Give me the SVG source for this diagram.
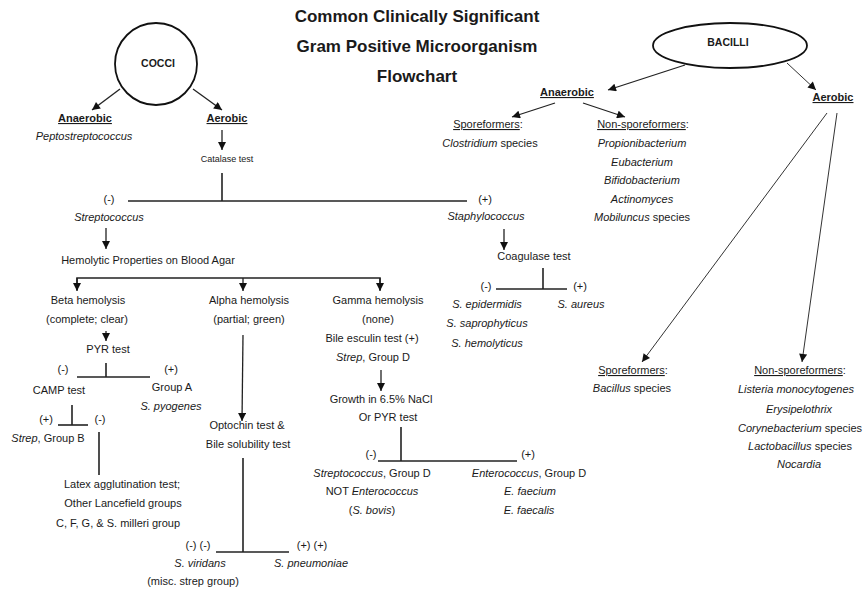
<svg xmlns="http://www.w3.org/2000/svg" width="866" height="590" viewBox="0 0 866 590">
<defs>
<marker id="ah" viewBox="0 0 10 10" refX="10" refY="5" markerWidth="9" markerHeight="8" markerUnits="userSpaceOnUse" orient="auto"><path d="M0,0 L10,5 L0,10 Z" fill="#111"/></marker>
</defs>
<style>
text{font-family:"Liberation Sans",Arial,sans-serif;font-size:11px;fill:#1a1a1a;text-anchor:middle}
.t{font-size:17px;font-weight:bold}
.h{font-weight:bold;text-decoration:underline}
.n{font-size:10.5px;font-weight:bold}
.s{font-size:9px}
.i{font-style:italic}
.u{text-decoration:underline}
.ln{stroke:#222;stroke-width:1.6;fill:none}
.ar{stroke:#222;stroke-width:1.3;fill:none;marker-end:url(#ah)}
.th{stroke:#333;stroke-width:1;fill:none;marker-end:url(#ah)}
.shape{fill:#fff;stroke:#111;stroke-width:1.8}
</style>
<rect width="866" height="590" fill="#fff"/>
<g id="title">
<text class="t" x="417" y="22">Common Clinically Significant</text>
<text class="t" x="417" y="52">Gram Positive Microorganism</text>
<text class="t" x="417" y="82">Flowchart</text>
</g>
<g id="connectors">
<line class="ar" x1="120" y1="89" x2="92" y2="110"/>
<line class="ar" x1="193" y1="89" x2="222" y2="110"/>
<line class="ar" x1="222" y1="130" x2="222" y2="150"/>
<line class="ln" x1="222" y1="173" x2="222" y2="201"/>
<line class="ln" x1="128" y1="201" x2="467" y2="201"/>
<line class="ar" x1="106" y1="228" x2="106" y2="249"/>
<polyline class="ln" points="77,290 77,278 380,278 380,290"/>
<line class="ar" x1="77" y1="278" x2="77" y2="291"/>
<line class="ar" x1="243" y1="278" x2="243" y2="291"/>
<line class="ar" x1="380" y1="278" x2="380" y2="291"/>
<line class="ar" x1="106" y1="331" x2="106" y2="341"/>
<line class="ln" x1="106" y1="363" x2="106" y2="377"/>
<line class="ln" x1="77" y1="377" x2="150" y2="377"/>
<line class="ln" x1="72" y1="405" x2="72" y2="425"/>
<line class="ln" x1="58" y1="425" x2="88" y2="425"/>
<line class="ln" x1="99" y1="432" x2="99" y2="475"/>
<line class="ar" x1="243" y1="335" x2="242" y2="421"/>
<line class="ln" x1="243" y1="458" x2="243" y2="552"/>
<line class="ln" x1="216" y1="552" x2="289" y2="552"/>
<line class="ar" x1="381" y1="370" x2="381" y2="391"/>
<line class="ln" x1="401" y1="427" x2="401" y2="461"/>
<line class="ln" x1="378" y1="461" x2="517" y2="461"/>
<line class="ar" x1="504" y1="229" x2="504" y2="250"/>
<line class="ln" x1="543" y1="268" x2="543" y2="289"/>
<line class="ln" x1="496" y1="289" x2="567" y2="289"/>
<line class="ar" x1="685" y1="65" x2="608" y2="90"/>
<line class="th" x1="787" y1="63" x2="816" y2="90"/>
<line class="ar" x1="555" y1="103" x2="512" y2="117"/>
<line class="ar" x1="583" y1="103" x2="625" y2="117"/>
<line class="th" x1="827" y1="113" x2="642" y2="362"/>
<line class="th" x1="837" y1="113" x2="802" y2="362"/>
</g>
<g id="cocci">
<circle class="shape" cx="156" cy="64" r="41"/>
<text class="n" x="158" y="67">COCCI</text>
</g>
<g id="cocci-anaerobic">
<text class="h" x="85" y="122">Anaerobic</text>
<text class="i" x="84" y="140">Peptostreptococcus</text>
</g>
<g id="cocci-aerobic">
<text class="h" x="227" y="122">Aerobic</text>
</g>
<g id="catalase">
<text class="s" x="227" y="162">Catalase test</text>
<text x="109" y="203">(-)</text>
<text x="485" y="203">(+)</text>
</g>
<g id="streptococcus">
<text class="i" x="109" y="221">Streptococcus</text>
</g>
<g id="hemolytic">
<text x="148" y="264">Hemolytic Properties on Blood Agar</text>
</g>
<g id="beta">
<text x="88" y="304">Beta hemolysis</text>
<text x="87" y="323">(complete; clear)</text>
</g>
<g id="pyr">
<text x="108" y="353">PYR test</text>
<text x="63" y="373">(-)</text>
<text x="171" y="373">(+)</text>
</g>
<g id="camp">
<text x="59" y="394">CAMP test</text>
<text x="46" y="423">(+)</text>
<text x="100" y="423">(-)</text>
</g>
<g id="groupA">
<text x="172" y="391">Group A</text>
<text class="i" x="171" y="410">S. pyogenes</text>
</g>
<g id="groupB">
<text x="48" y="442"><tspan class="i">Strep</tspan>, Group B</text>
</g>
<g id="latex">
<text x="122" y="488">Latex agglutination test;</text>
<text x="123" y="507">Other Lancefield groups</text>
<text x="118" y="527">C, F, G, &amp; S. milleri group</text>
</g>
<g id="alpha">
<text x="249" y="304">Alpha hemolysis</text>
<text x="249" y="323">(partial; green)</text>
</g>
<g id="optochin">
<text x="247" y="429">Optochin test &amp;</text>
<text x="248" y="448">Bile solubility test</text>
<text x="198" y="549">(-) (-)</text>
<text x="312" y="549">(+) (+)</text>
</g>
<g id="viridans">
<text class="i" x="200" y="567">S. viridans</text>
<text x="193" y="585">(misc. strep group)</text>
</g>
<g id="pneumoniae">
<text class="i" x="311" y="567">S. pneumoniae</text>
</g>
<g id="gamma">
<text x="378" y="304">Gamma hemolysis</text>
<text x="378" y="323">(none)</text>
<text x="372" y="342">Bile esculin test (+)</text>
<text x="373" y="361"><tspan class="i">Strep</tspan>, Group D</text>
</g>
<g id="growth">
<text x="381" y="403">Growth in 6.5% NaCl</text>
<text x="388" y="421">Or PYR test</text>
<text x="371" y="458">(-)</text>
<text x="528" y="458">(+)</text>
</g>
<g id="strepD">
<text x="372" y="477"><tspan class="i">Streptococcus</tspan>, Group D</text>
<text x="372" y="495">NOT <tspan class="i">Enterococcus</tspan></text>
<text x="372" y="514">(<tspan class="i">S. bovis</tspan>)</text>
</g>
<g id="enterococcus">
<text x="529" y="477"><tspan class="i">Enterococcus</tspan>, Group D</text>
<text class="i" x="530" y="495">E. faecium</text>
<text class="i" x="529" y="514">E. faecalis</text>
</g>
<g id="staphylococcus">
<text class="i" x="486" y="220">Staphylococcus</text>
</g>
<g id="coagulase">
<text x="534" y="260">Coagulase test</text>
<text x="486" y="290">(-)</text>
<text x="580" y="290">(+)</text>
</g>
<g id="coag-neg">
<text class="i" x="487" y="308">S. epidermidis</text>
<text class="i" x="487" y="327">S. saprophyticus</text>
<text class="i" x="487" y="347">S. hemolyticus</text>
</g>
<g id="aureus">
<text class="i" x="581" y="308">S. aureus</text>
</g>
<g id="bacilli">
<ellipse class="shape" cx="730" cy="45.5" rx="77" ry="22.5"/>
<text class="n" x="728" y="46">BACILLI</text>
</g>
<g id="bacilli-anaerobic">
<text class="h" x="567" y="96">Anaerobic</text>
</g>
<g id="anaerobic-spore">
<text x="488" y="128"><tspan class="u">Sporeformers</tspan>:</text>
<text x="490" y="147"><tspan class="i">Clostridium</tspan> species</text>
</g>
<g id="anaerobic-nonspore">
<text x="643" y="128"><tspan class="u">Non-sporeformers</tspan>:</text>
<text class="i" x="642" y="147">Propionibacterium</text>
<text class="i" x="642" y="166">Eubacterium</text>
<text class="i" x="642" y="184">Bifidobacterium</text>
<text class="i" x="642" y="203">Actinomyces</text>
<text x="642" y="221"><tspan class="i">Mobiluncus</tspan> species</text>
</g>
<g id="bacilli-aerobic">
<text class="h" x="833" y="101">Aerobic</text>
</g>
<g id="aerobic-spore">
<text x="633" y="374"><tspan class="u">Sporeformers</tspan>:</text>
<text x="632" y="392"><tspan class="i">Bacillus</tspan> species</text>
</g>
<g id="aerobic-nonspore">
<text x="800" y="374"><tspan class="u">Non-sporeformers</tspan>:</text>
<text class="i" x="796" y="393">Listeria monocytogenes</text>
<text class="i" x="799" y="413">Erysipelothrix</text>
<text x="800" y="432"><tspan class="i">Corynebacterium</tspan> species</text>
<text x="800" y="450"><tspan class="i">Lactobacillus</tspan> species</text>
<text class="i" x="799" y="468">Nocardia</text>
</g>
</svg>
